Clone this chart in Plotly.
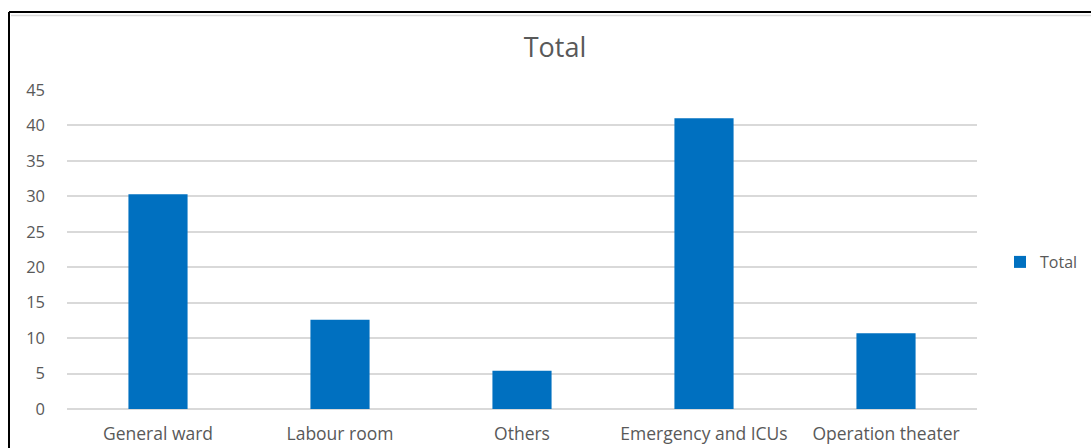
import plotly.graph_objects as go

categories = ["General ward", "Labour room", "Others", "Emergency and ICUs", "Operation theater"]
values = [30.3, 12.6, 5.4, 41.0, 10.7]
series_name = "Total"
y_ticks = [0, 5, 10, 15, 20, 25, 30, 35, 40, 45]

W, H = 1091, 448
L, R, T, B = 67, 114, 90, 39
pw, ph = W - L - R, H - T - B

def px_x(px):
    return (px - L) / pw

def px_y(py):
    return (H - B - py) / ph

fig = go.Figure()
fig.add_trace(go.Bar(x=categories, y=values, name=series_name,
                     marker=dict(color="#0070C0", line=dict(width=0))))

font = "Open Sans, Liberation Sans, sans-serif"
fig.update_layout(
    width=W, height=H,
    margin=dict(l=L, r=R, t=T, b=B, autoexpand=False),
    paper_bgcolor="white", plot_bgcolor="white",
    bargap=0.675,
    showlegend=True,
    title=dict(text="Total", x=555 / W, xanchor="center", y=1 - 48 / H, yanchor="middle",
               font=dict(family=font, size=27, color="#595959")),
    legend=dict(x=px_x(1000), y=px_y(262), xanchor="left", yanchor="middle",
                font=dict(family=font, size=16, color="#595959"),
                itemwidth=30, bgcolor="rgba(0,0,0,0)"),
    xaxis=dict(showgrid=False, showline=False, ticks="", tickfont=dict(family=font, size=17.5, color="#595959")),
    yaxis=dict(range=[0, 45], tickvals=y_ticks, showgrid=True, gridcolor="#D9D9D9", gridwidth=1.5,
               zeroline=True, zerolinecolor="#D9D9D9", zerolinewidth=1.5, showline=False,
               ticks="", ticklen=0, tickfont=dict(family=font, size=16.5, color="#595959")),
    shapes=[
        dict(type="line", xref="paper", yref="paper", x0=px_x(9), x1=px_x(W + 5), y0=px_y(12), y1=px_y(12),
             line=dict(color="black", width=2)),
        dict(type="line", xref="paper", yref="paper", x0=px_x(9), x1=px_x(9), y0=px_y(12), y1=px_y(H + 5),
             line=dict(color="black", width=2)),
        dict(type="line", xref="paper", yref="paper", x0=px_x(11), x1=px_x(W + 5), y0=px_y(15.5), y1=px_y(15.5),
             line=dict(color="#D9D9D9", width=1.5)),
    ],
)
fig.update_yaxes(ticklabelstandoff=21)
fig.update_xaxes(ticklabelstandoff=12)

fig.write_html("out.html")
